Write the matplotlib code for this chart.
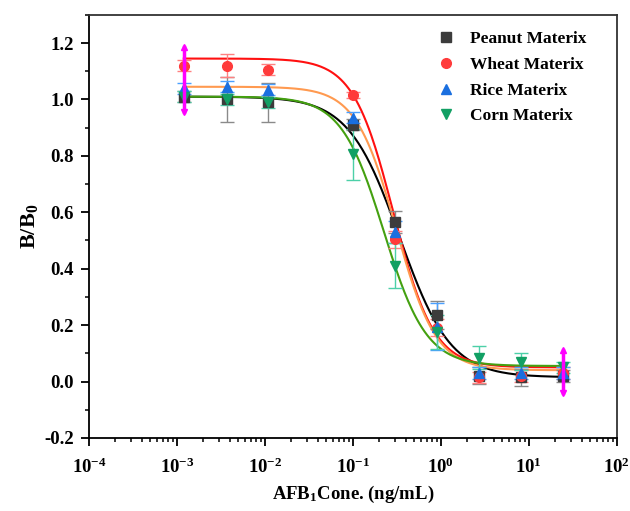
import numpy as np
import matplotlib.pyplot as plt
from matplotlib.ticker import LogLocator, NullFormatter, MultipleLocator

plt.rcParams['font.family'] = ['Liberation Serif', 'DejaVu Serif']
plt.rcParams['font.weight'] = 'bold'
plt.rcParams['mathtext.fontset'] = 'custom'
plt.rcParams['mathtext.rm'] = 'Liberation Serif:bold'
plt.rcParams['mathtext.it'] = 'Liberation Serif:bold'
plt.rcParams['mathtext.bf'] = 'Liberation Serif:bold'

# concentrations (ng/mL)
conc = [0.0012, 0.0037, 0.011, 0.1, 0.3, 0.9, 2.7, 8.1, 24.3]

names = ['Peanut Materix', 'Wheat Materix', 'Rice Materix', 'Corn Materix']
peanut = [1.01, 1.00, 0.99, 0.91, 0.565, 0.235, 0.02, 0.015, 0.02]
peanut_err = [0.02, 0.08, 0.07, 0.02, 0.04, 0.05, 0.03, 0.03, 0.02]
wheat = [1.12, 1.12, 1.105, 1.015, 0.505, 0.19, 0.015, 0.02, 0.03]
wheat_err = [0.02, 0.04, 0.02, 0.01, 0.03, 0.03, 0.02, 0.02, 0.02]
rice = [1.04, 1.045, 1.035, 0.935, 0.53, 0.195, 0.03, 0.03, 0.03]
rice_err = [0.02, 0.02, 0.02, 0.02, 0.04, 0.085, 0.02, 0.02, 0.02]
corn = [1.01, 1.0, 0.99, 0.805, 0.41, 0.175, 0.085, 0.07, 0.05]
corn_err = [0.02, 0.02, 0.02, 0.09, 0.08, 0.06, 0.04, 0.03, 0.02]

# four-parameter logistic fits: top, bottom, IC50, hill slope
fit_peanut = (1.01, 0.015, 0.34, 1.5)
fit_wheat = (1.145, 0.05, 0.29, 1.9)
fit_rice = (1.045, 0.04, 0.31, 1.9)
fit_corn = (1.01, 0.055, 0.225, 1.8)

# magenta spindles at the end points
spindle_x = [0.0012, 24.3]
spindle_lo = [0.955, -0.04]
spindle_hi = [1.185, 0.11]

mk_colors = ['#3c3c3c', '#ff3b3b', '#1a6fdf', '#12a064']
err_colors = ['#8a8a8a', '#ff8080', '#4aa0ff', '#4cd0a8']
line_colors = ['black', '#ff1010', '#ff9a50', '#44a010']
markers = ['s', 'o', '^', 'v']

fig = plt.figure(figsize=(6.3, 5.11), dpi=100)
ax = fig.add_axes([0.141, 0.143, 0.838, 0.828])

xs = np.logspace(np.log10(conc[0]), np.log10(conc[-1]), 300)
ys = [peanut, wheat, rice, corn]
es = [peanut_err, wheat_err, rice_err, corn_err]
fits = [fit_peanut, fit_wheat, fit_rice, fit_corn]

for i in range(4):
    top, bot, ic50, h = fits[i]
    ax.plot(xs, bot + (top - bot) / (1 + (xs / ic50) ** h), color=line_colors[i], lw=1.5, zorder=2)

for i in range(4):
    ax.errorbar(conc, ys[i], yerr=es[i], fmt='none', ecolor=err_colors[i], elinewidth=1, capsize=5, capthick=1, zorder=3)
    ax.plot(conc, ys[i], ls='none', marker=markers[i], ms=7, color=mk_colors[i], label=names[i], zorder=4)

for x, lo, hi in zip(spindle_x, spindle_lo, spindle_hi):
    ax.plot([x, x], [lo, hi], color='magenta', lw=2.5, zorder=5)
    ax.plot([x], [hi], marker='^', ms=5, color='magenta', zorder=5)
    ax.plot([x], [lo], marker='v', ms=5, color='magenta', zorder=5)

ax.set_xscale('log')
ax.set_xlim(1e-4, 1e2)
ax.set_ylim(-0.2, 1.3)
ax.xaxis.set_minor_locator(LogLocator(base=10, subs=np.arange(2, 10), numticks=10))
ax.xaxis.set_minor_formatter(NullFormatter())
ax.yaxis.set_minor_locator(MultipleLocator(0.1))
ax.set_yticks([-0.2, 0.0, 0.2, 0.4, 0.6, 0.8, 1.0, 1.2])
ax.set_yticklabels(['-0.2', '0.0', '0.2', '0.4', '0.6', '0.8', '1.0', '1.2'])
ax.set_xticks([1e-4, 1e-3, 1e-2, 1e-1, 1, 10, 100])
ax.set_xticklabels([r'$\mathregular{10^{-4}}$', r'$\mathregular{10^{-3}}$', r'$\mathregular{10^{-2}}$',
                    r'$\mathregular{10^{-1}}$', r'$\mathregular{10^{0}}$', r'$\mathregular{10^{1}}$',
                    r'$\mathregular{10^{2}}$'])

ax.tick_params(which='major', direction='out', length=6, width=1.3, labelsize=13.5, top=False, right=False)
ax.tick_params(axis='x', which='major', pad=8)
ax.tick_params(axis='y', which='major', pad=5)
ax.tick_params(which='minor', direction='out', length=3, width=1.1, top=False, right=False)
for s in ax.spines.values():
    s.set_linewidth(1.3)
ax.spines['top'].set_color('#333333')
ax.spines['right'].set_color('#333333')

ax.set_xlabel(r'AFB$\mathregular{_1}$Cone. (ng/mL)', fontsize=13.5, fontweight='bold', labelpad=5)
ax.set_ylabel(r'B/B$\mathregular{_0}$', fontsize=16, fontweight='bold', labelpad=3)

ax.legend(loc='upper right', bbox_to_anchor=(0.965, 0.99), frameon=False, fontsize=12.5,
          handletextpad=0.6, labelspacing=0.55, borderaxespad=0.3, handlelength=1.5)

fig.savefig('out.png', dpi=100)
